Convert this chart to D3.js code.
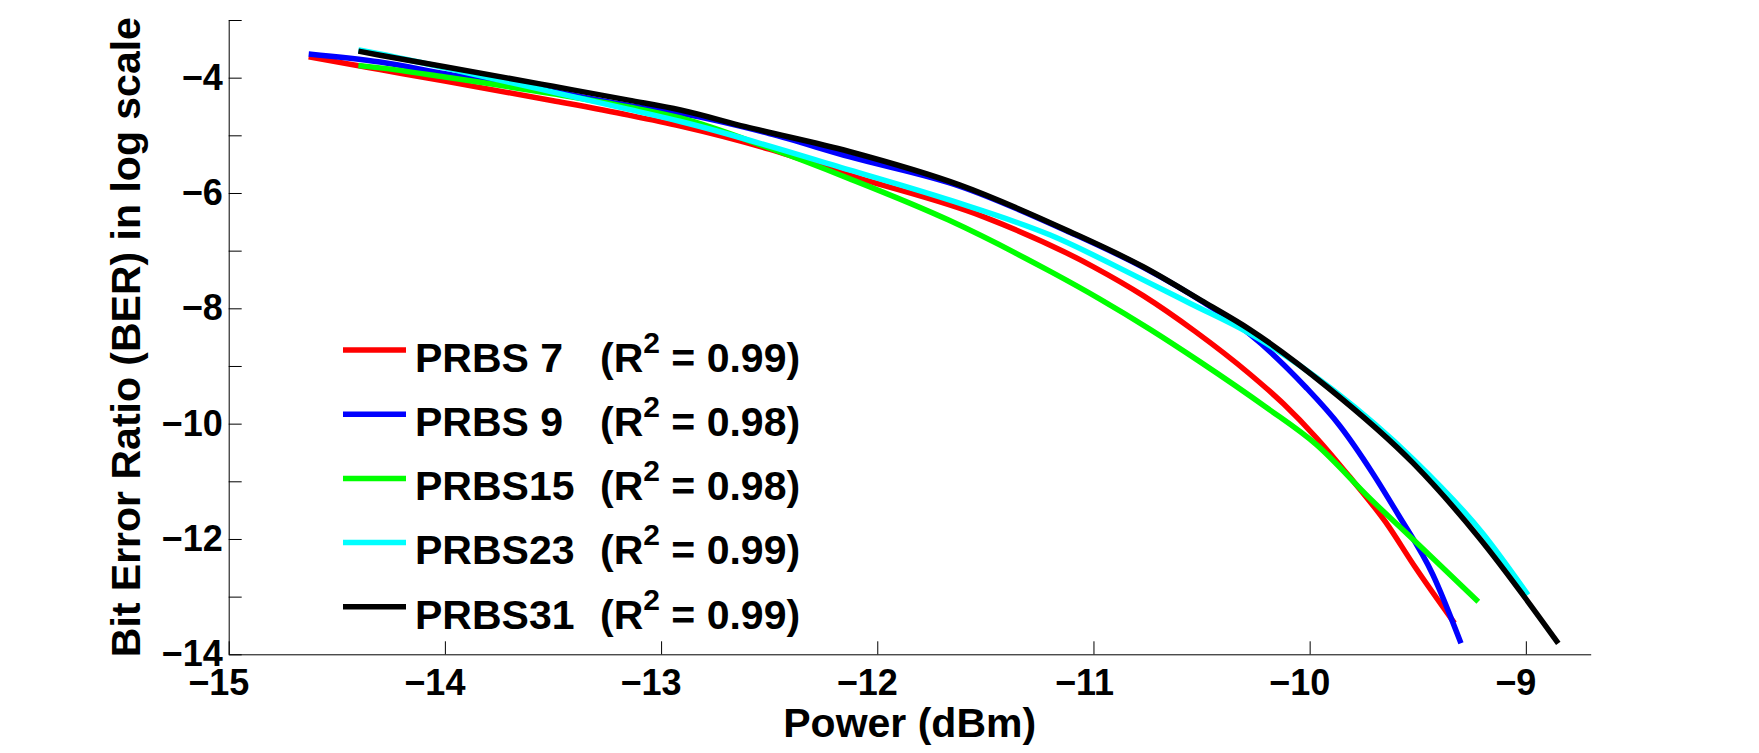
<!DOCTYPE html>
<html lang="en">
<head>
    <meta charset="UTF-8">
    <title>BER vs Power</title>
    <style>
        body, html {
            margin: 0;
            padding: 0;
            background-color: #ffffff;
        }
        svg text {
            font-family: "Liberation Sans", Arial, Helvetica, sans-serif;
            font-weight: bold;
        }
    </style>
</head>
<body>
    <svg id="svg" width="1759" height="753"></svg>
    <script src="https://d3js.org/d3.v7.min.js"></script>
    <script>
        // series: power (dBm) and log10(BER)
        const prbs7X = [-14.63, -14.30, -14.0, -13.5, -13.15, -12.91, -12.50, -12.13, -11.51, -11.0, -10.77, -10.53, -10.28, -10.12, -9.97, -9.82, -9.65, -9.51, -9.33]
        const prbs7Y = [-3.64, -3.86, -4.06, -4.40, -4.65, -4.84, -5.24, -5.69, -6.41, -7.28, -7.78, -8.40, -9.13, -9.66, -10.24, -10.90, -11.70, -12.50, -13.46]

        const prbs9X = [-14.63, -14.30, -14.0, -13.5, -13.15, -12.91, -12.50, -12.13, -11.62, -11.11, -10.77, -10.49, -10.28, -10.02, -9.86, -9.71, -9.59, -9.43, -9.30]
        const prbs9Y = [-3.59, -3.73, -3.93, -4.24, -4.48, -4.62, -4.97, -5.37, -5.88, -6.68, -7.29, -7.90, -8.44, -9.36, -10.04, -10.85, -11.58, -12.62, -13.81]

        const prbs15X = [-14.40, -14.30, -14.0, -13.5, -13.15, -12.91, -12.50, -12.13, -11.67, -11.20, -10.97, -10.74, -10.51, -10.20, -9.97, -9.72, -9.51, -9.22]
        const prbs15Y = [-3.79, -3.83, -3.99, -4.28, -4.51, -4.70, -5.22, -5.75, -6.47, -7.36, -7.84, -8.36, -8.92, -9.72, -10.36, -11.30, -12.05, -13.09]

        const prbs23X = [-14.40, -14.30, -14.0, -13.5, -13.15, -12.91, -12.13, -11.66, -11.20, -10.80, -10.55, -10.28, -9.89, -9.52, -9.20, -8.99]
        const prbs23Y = [-3.52, -3.59, -3.83, -4.25, -4.55, -4.76, -5.60, -6.13, -6.73, -7.45, -7.92, -8.43, -9.42, -10.62, -11.90, -12.97]

        const prbs31X = [-14.40, -14.30, -14.0, -13.5, -13.15, -12.91, -12.61, -12.13, -11.62, -11.11, -10.77, -10.49, -10.28, -9.92, -9.52, -9.22, -8.85]
        const prbs31Y = [-3.54, -3.61, -3.81, -4.15, -4.39, -4.56, -4.85, -5.28, -5.86, -6.67, -7.28, -7.89, -8.36, -9.36, -10.69, -11.96, -13.81]

        const seriesNames = ['PRBS 7', 'PRBS 9', 'PRBS15', 'PRBS23', 'PRBS31']
        const rSquared = ['0.99', '0.98', '0.98', '0.99', '0.99']
        const seriesColors = ['#ff0000', '#0000ff', '#00ff00', '#00ffff', '#000000']

        const xTicks = [-15, -14, -13, -12, -11, -10, -9]
        const yTicks = [-14, -13, -12, -11, -10, -9, -8, -7, -6, -5, -4, -3]

        const series = [
            { name: seriesNames[0], color: seriesColors[0], r2: rSquared[0], xs: prbs7X, ys: prbs7Y },
            { name: seriesNames[1], color: seriesColors[1], r2: rSquared[1], xs: prbs9X, ys: prbs9Y },
            { name: seriesNames[2], color: seriesColors[2], r2: rSquared[2], xs: prbs15X, ys: prbs15Y },
            { name: seriesNames[3], color: seriesColors[3], r2: rSquared[3], xs: prbs23X, ys: prbs23Y },
            { name: seriesNames[4], color: seriesColors[4], r2: rSquared[4], xs: prbs31X, ys: prbs31Y },
        ]

        const plot = { left: 228.7, right: 1590.7, top: 20, bottom: 654.3 }
        const tickFont = 36
        const labelFont = 41

        const xscale = d3.scaleLinear()
            .domain([-15, -8.7])
            .range([plot.left, plot.right])

        const yscale = d3.scaleLinear()
            .domain([-14, -3])
            .range([plot.bottom, plot.top])

        const svg = d3.select('#svg')
        const fmt = d3.format('d')

        // lines, black drawn last so it sits on top
        const line = d3.line()
            .x(d => xscale(d[0]))
            .y(d => yscale(d[1]))
            .curve(d3.curveMonotoneX)

        svg.append('g')
            .selectAll('path')
            .data(series)
            .enter()
            .append('path')
            .attr('d', s => line(s.xs.map((x, i) => [x, s.ys[i]])))
            .attr('fill', 'none')
            .attr('stroke', s => s.color)
            .attr('stroke-width', 5.5)
            .attr('stroke-linejoin', 'round')

        // x axis, ticks point inward like matlab
        const bottomAxis = d3.axisBottom(xscale)
            .tickValues(xTicks)
            .tickSizeInner(-13)
            .tickSizeOuter(0)
            .tickPadding(15)
            .tickFormat(fmt)
        const gx = svg.append('g')
            .attr('transform', `translate(0, ${plot.bottom})`)
            .call(bottomAxis)
        gx.selectAll('text')
            .attr('font-size', tickFont + 'px')
            .attr('fill', '#000')
            .attr('text-anchor', 'end')
            // digits centred on the tick, minus sign hanging left
            .attr('x', d => String(Math.abs(d)).length * 0.556 * tickFont / 2)

        // y axis, labels only on even values
        const leftAxis = d3.axisLeft(yscale)
            .tickValues(yTicks)
            .tickSizeInner(-13)
            .tickSizeOuter(0)
            .tickPadding(6)
            .tickFormat(d => d % 2 === 0 ? fmt(d) : '')
        const gy = svg.append('g')
            .attr('transform', `translate(${plot.left}, 0)`)
            .call(leftAxis)
        gy.selectAll('text')
            .attr('font-size', tickFont + 'px')
            .attr('fill', '#000')

        svg.selectAll('.domain, .tick line')
            .attr('stroke', '#000')
            .attr('stroke-width', 1)

        // axis titles
        svg.append('text')
            .attr('x', (plot.left + plot.right) / 2)
            .attr('y', 737)
            .attr('text-anchor', 'middle')
            .attr('font-size', labelFont + 'px')
            .text('Power (dBm)')

        svg.append('text')
            .attr('transform', `translate(140, ${(plot.top + plot.bottom) / 2}) rotate(-90)`)
            .attr('text-anchor', 'middle')
            .attr('font-size', labelFont + 'px')
            .text('Bit Error Ratio (BER) in log scale')

        // legend
        const legend = svg.append('g')
        const rows = legend.selectAll('g')
            .data(series)
            .enter()
            .append('g')
            .attr('transform', (d, i) => `translate(0, ${350 + i * 64.2})`)

        rows.append('line')
            .attr('x1', 343)
            .attr('x2', 406)
            .attr('stroke', d => d.color)
            .attr('stroke-width', 5.5)

        rows.append('text')
            .attr('x', 415)
            .attr('y', 21.7)
            .attr('font-size', labelFont + 'px')
            .text(d => d.name)

        const r2Text = rows.append('text')
            .attr('x', 600)
            .attr('y', 21.7)
            .attr('font-size', labelFont + 'px')
        r2Text.append('tspan').text('(R')
        r2Text.append('tspan')
            .attr('dy', -19)
            .attr('font-size', '30px')
            .text('2')
        r2Text.append('tspan')
            .attr('dy', 19)
            .attr('xml:space', 'preserve')
            .style('white-space', 'pre')
            .text(d => ` = ${d.r2})`)
    </script>
</body>
</html>
